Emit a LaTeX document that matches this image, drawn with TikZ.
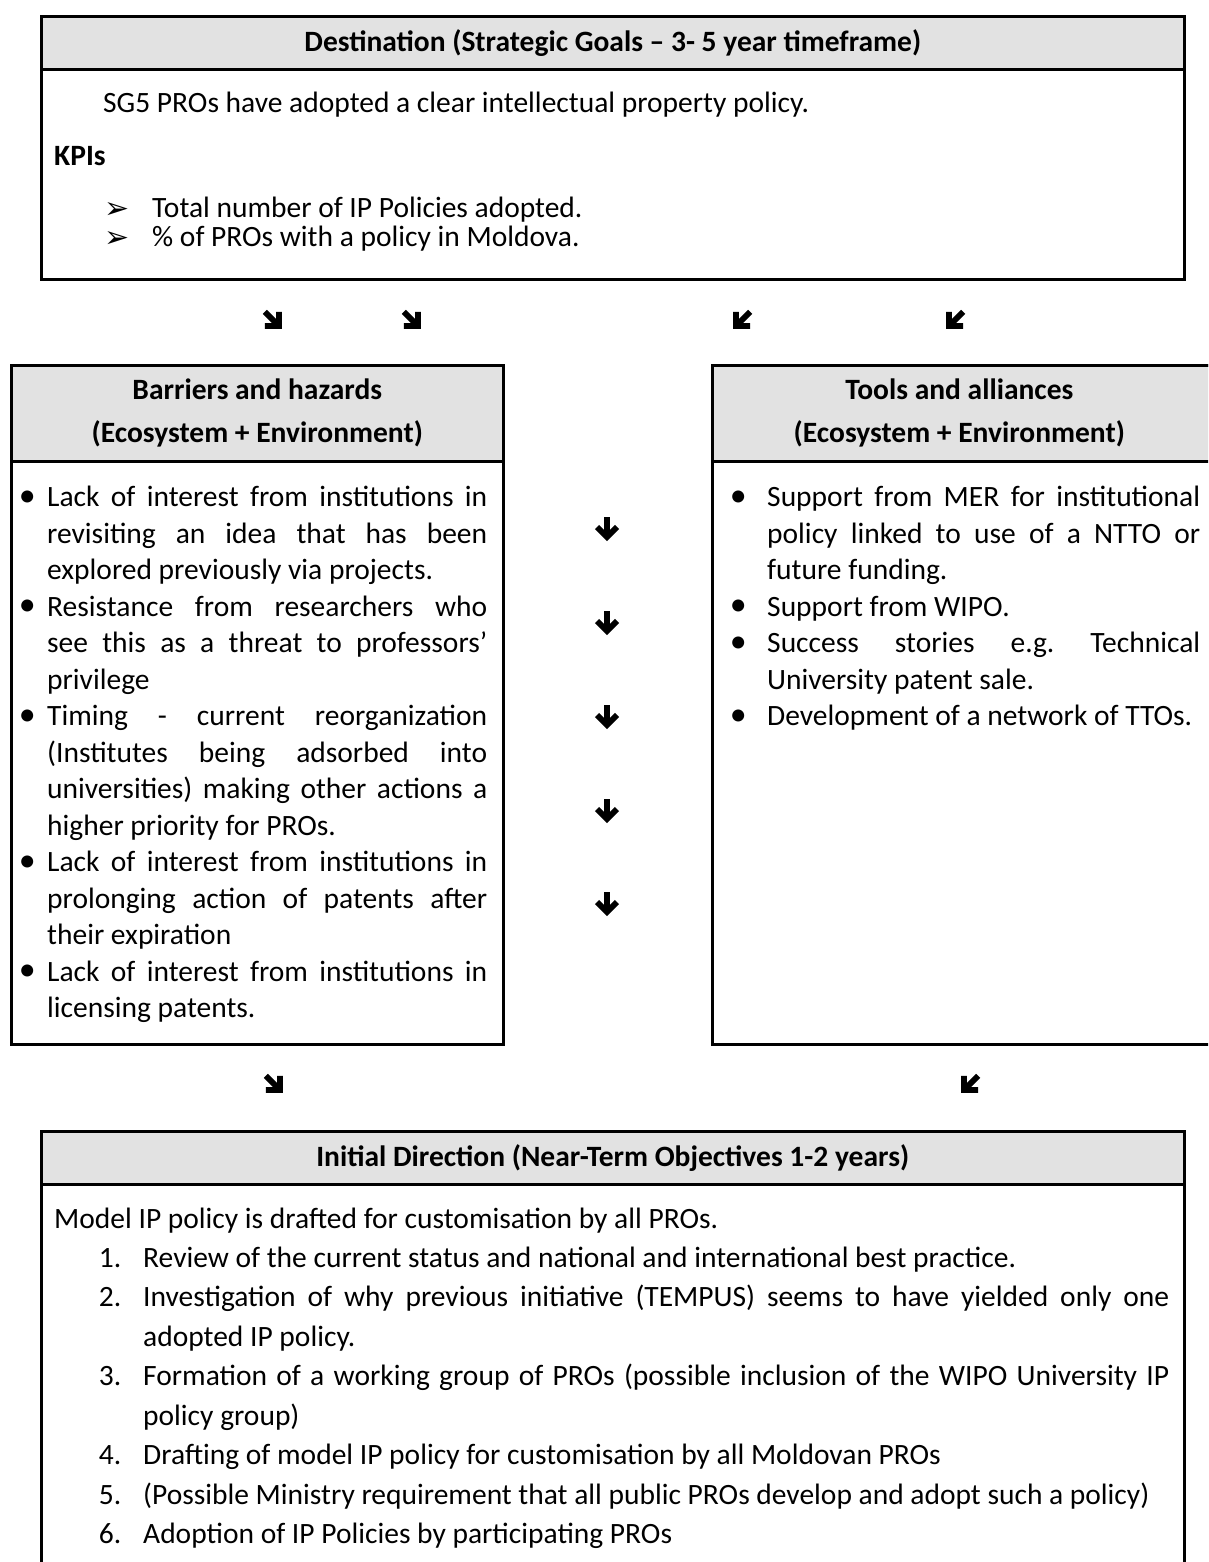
\documentclass[tikz,border=0pt]{standalone}
\usepackage{fontspec}
\setmainfont{Carlito}
\newfontfamily\dejavu{DejaVu Sans}
\definecolor{hdrgray}{HTML}{E2E2E2}
\frenchspacing
\tikzset{
  frameline/.style={draw=black, line width=2.6bp},
  hdrbox/.style={frameline, fill=hdrgray, inner sep=0pt, anchor=north west, align=center,
    font=\fontsize{29.5bp}{43bp}\selectfont\bfseries},
  framebox/.style={frameline, inner sep=0pt, anchor=north west},
  txt/.style={inner sep=0pt, anchor=base west, font=\fontsize{29.5bp}{36bp}\selectfont},
  bodypar/.style={inner sep=0pt, anchor=north west, align=justify,
    font=\fontsize{29.5bp}{36.5bp}\selectfont},
  kbullet/.style={inner sep=0pt, anchor=base west, font=\dejavu\fontsize{30bp}{36bp}\selectfont},
  bigarrow/.pic={
    \draw[line width=5.8bp] (0,-13) -- (0,6);
    \draw[line width=5.8bp, miter limit=10] (-10,-3) -- (0,7) -- (10,-3);
  }
}
\newcommand{\bulat}[1]{\makebox[0pt][r]{\makebox[0pt][c]{\raisebox{0.02em}{\scalebox{1.15}{•}}}\hspace*{#1}}}
\begin{document}
\begin{tikzpicture}[x=1bp,y=-1bp]
\useasboundingbox (0,0) rectangle (1208,1562);
\clip (0,0) rectangle (1208,1562);

% ---------- top box ----------
\node[hdrbox, minimum width=1143bp, minimum height=53bp] (tophdr) at (40,15)
  {Destination (Strategic Goals – 3- 5 year timeframe)};
\node[framebox, minimum width=1143bp, minimum height=263bp] (topbox) at (40,15) {};
\node[txt] (sg) at (103,113) {SG5 PROs have adopted a clear intellectual property policy.};
\node[txt, font=\fontsize{29.5bp}{36bp}\selectfont\bfseries] (kpi) at (54,165) {KPIs};
\node[kbullet] (k1b) at (104,218) {➢};
\node[txt] (k1) at (152,217) {Total number of IP Policies adopted.};
\node[kbullet] (k2b) at (104,247) {➢};
\node[txt] (k2) at (152,246) {\% of PROs with a policy in Moldova.};

% ---------- arrows row 1 ----------
\pic[rotate=45] at (274,321) {bigarrow};
\pic[rotate=45] at (413,321) {bigarrow};
\pic[rotate=-45] at (741,321) {bigarrow};
\pic[rotate=-45] at (954,321) {bigarrow};

% ---------- left box ----------
\node[hdrbox, minimum width=492bp, minimum height=96bp] (lefthdr) at (10,364)
  {Barriers and hazards\\(Ecosystem + Environment)};
\node[framebox, minimum width=492bp, minimum height=679bp] (leftbox) at (10,364) {};
\node[bodypar, text width=440bp] (lefttxt) at (47,486) {%
\hyphenpenalty=10000 \exhyphenpenalty=10000
\bulat{20bp}Lack of interest from institutions in\linebreak revisiting an idea that has been\linebreak explored previously via projects.\par
\bulat{20bp}Resistance from researchers who\linebreak see this as a threat to professors’\linebreak privilege\par
\bulat{20bp}Timing - current reorganization\linebreak (Institutes being adsorbed into\linebreak universities) making other actions a\linebreak higher priority for PROs.\par
\bulat{20bp}Lack of interest from institutions in\linebreak prolonging action of patents after\linebreak their expiration\par
\bulat{20bp}Lack of interest from institutions in\linebreak licensing patents.};

% ---------- middle arrows ----------
\pic at (607,530) {bigarrow};
\pic at (607,624) {bigarrow};
\pic at (607,718) {bigarrow};
\pic at (607,812) {bigarrow};
\pic at (607,905) {bigarrow};

% ---------- right box ----------
\node[hdrbox, minimum width=510bp, minimum height=96bp] (righthdr) at (711,364)
  {\hspace*{-16bp}Tools and alliances\\\hspace*{-16bp}(Ecosystem + Environment)};
\node[framebox, minimum width=510bp, minimum height=679bp] (rightbox) at (711,364) {};
\node[bodypar, text width=433bp] (righttxt) at (767,486) {%
\hyphenpenalty=10000 \exhyphenpenalty=10000
\bulat{29bp}Support from MER for institutional\linebreak policy linked to use of a NTTO or\linebreak future funding.\par
\bulat{29bp}Support from WIPO.\par
\bulat{29bp}Success stories e.g. Technical\linebreak University patent sale.\par
\bulat{29bp}Development of a network of TTOs.};

% ---------- arrows row 2 ----------
\pic[rotate=45] at (275,1085) {bigarrow};
\pic[rotate=-45] at (969,1085) {bigarrow};

% ---------- bottom box ----------
\node[hdrbox, minimum width=1143bp, minimum height=53bp] (bothdr) at (40,1130)
  {Initial Direction (Near-Term Objectives 1-2 years)};
\node[framebox, minimum width=1143bp, minimum height=500bp] (botbox) at (40,1130) {};
\node[txt] (model) at (54,1228) {Model IP policy is drafted for customisation by all PROs.};
\node[bodypar, text width=1026bp, font=\fontsize{29.5bp}{39.5bp}\selectfont] (list) at (143,1246.5) {%
\hyphenpenalty=10000 \exhyphenpenalty=10000 \emergencystretch=20bp
\def\num#1{\makebox[0pt][r]{#1\hspace*{22bp}}}%
\num{1.}Review of the current status and national and international best practice.\par
\num{2.}Investigation of why previous initiative (TEMPUS) seems to have yielded only one\linebreak adopted IP policy.\par
\num{3.}Formation of a working group of PROs (possible inclusion of the WIPO University IP\linebreak policy group)\par
\num{4.}Drafting of model IP policy for customisation by all Moldovan PROs\par
\num{5.}(Possible Ministry requirement that all public PROs develop and adopt such a policy)\par
\num{6.}Adoption of IP Policies by participating PROs};
\end{tikzpicture}
\end{document}
